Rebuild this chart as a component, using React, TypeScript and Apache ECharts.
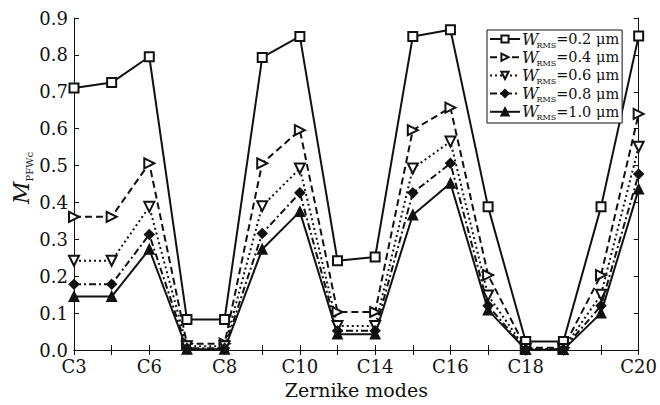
import React, { useEffect, useRef } from "react";
import * as echarts from "echarts";

const tickLabels = ["C3", "", "C6", "", "C8", "", "C10", "", "C14", "", "C16", "", "C18", "", "", "C20"];
const yTicks = [0, 0.9, 0.1];

const seriesNames = ["0.2", "0.4", "0.6", "0.8", "1.0"];
const w02 = [0.71, 0.725, 0.795, 0.083, 0.083, 0.793, 0.85, 0.242, 0.252, 0.85, 0.868, 0.388, 0.023, 0.023, 0.388, 0.851];
const w04 = [0.361, 0.361, 0.506, 0.017, 0.017, 0.506, 0.596, 0.103, 0.103, 0.596, 0.657, 0.203, 0.006, 0.006, 0.203, 0.64];
const w06 = [0.242, 0.242, 0.388, 0.01, 0.01, 0.39, 0.492, 0.065, 0.065, 0.492, 0.565, 0.148, 0.003, 0.003, 0.15, 0.551];
const w08 = [0.178, 0.178, 0.313, 0.005, 0.005, 0.316, 0.426, 0.052, 0.052, 0.426, 0.506, 0.12, 0.002, 0.002, 0.12, 0.477];
const w10 = [0.145, 0.145, 0.273, 0.002, 0.002, 0.273, 0.375, 0.043, 0.043, 0.366, 0.452, 0.108, 0.001, 0.001, 0.1, 0.436];

const FONT = "DejaVu Serif";
const INK = "#111";

export default function App() {
  const ref = useRef<HTMLDivElement>(null);
  useEffect(() => {
    if (!ref.current) return;
    const chart = echarts.init(ref.current, undefined, { renderer: "svg" });
    const values = [w02, w04, w06, w08, w10];
    const styles = [
      { symbol: "emptyRect", rotate: 0, type: "solid" as any, size: 9 },
      { symbol: "emptyTriangle", rotate: -90, type: [7, 4] as any, size: 10 },
      { symbol: "emptyTriangle", rotate: 180, type: [2, 3] as any, size: 10 },
      { symbol: "diamond", rotate: 0, type: [7, 3, 2, 3] as any, size: 9 },
      { symbol: "triangle", rotate: 0, type: "solid" as any, size: 9 },
    ];
    const series = seriesNames.map((n, i) => ({
      name: n,
      type: "line",
      data: values[i],
      symbol: styles[i].symbol,
      symbolSize: styles[i].size,
      symbolRotate: styles[i].rotate,
      lineStyle: { color: INK, width: 2, type: styles[i].type },
      itemStyle: { color: INK, borderColor: INK, borderWidth: 1.8 },
      showAllSymbol: true,
      z: 3,
    }));
    const axisCommon = {
      axisLine: { show: true, lineStyle: { color: INK, width: 1 } },
      axisTick: { show: true, inside: true, length: 5, lineStyle: { color: INK } },
      splitLine: { show: false },
    };
    chart.setOption({
      animation: false,
      backgroundColor: "#fff",
      grid: { left: 74, right: 13, top: 18, bottom: 55, containLabel: false },
      legend: {
        orient: "vertical",
        left: 487,
        top: 30,
        padding: [1, 3, 1, 2],
        itemGap: 0,
        itemWidth: 30,
        itemHeight: 9,
        borderColor: INK,
        borderWidth: 1,
        backgroundColor: "#fff",
        symbolRotate: "inherit",
        data: seriesNames,
        formatter: (name: string) => `{w|W}{s|RMS}{t|=${name} μm}`,
        textStyle: {
          fontFamily: FONT,
          color: INK,
          rich: {
            w: { fontFamily: FONT, fontStyle: "italic", fontSize: 16, lineHeight: 20.4, verticalAlign: "middle", color: INK, padding: [0, 0, 0, -3] },
            s: { fontFamily: FONT, fontSize: 8, lineHeight: 20.4, verticalAlign: "bottom", color: INK, padding: [0, 0, 0, -2] },
            t: { fontFamily: FONT, fontSize: 14.5, lineHeight: 20.4, verticalAlign: "middle", color: INK },
          },
        },
      },
      xAxis: [
        {
          type: "category",
          data: tickLabels,
          boundaryGap: false,
          position: "bottom",
          ...axisCommon,
          axisTick: { ...axisCommon.axisTick, interval: 0 },
          axisLabel: { interval: 0, fontFamily: FONT, fontSize: 18, color: INK, margin: 7 },
          name: "Zernike modes",
          nameLocation: "middle",
          nameGap: 30,
          nameTextStyle: { fontFamily: FONT, fontSize: 19, color: INK },
        },
        {
          type: "category",
          data: tickLabels,
          boundaryGap: false,
          position: "top",
          ...axisCommon,
          axisTick: { ...axisCommon.axisTick, interval: 0 },
          axisLabel: { show: false },
        },
      ],
      yAxis: [
        {
          type: "value",
          min: yTicks[0],
          max: yTicks[1],
          interval: yTicks[2],
          position: "left",
          ...axisCommon,
          axisLabel: { fontFamily: FONT, fontSize: 18, color: INK, margin: 6, formatter: (v: number) => v.toFixed(1) },
        },
        {
          type: "value",
          min: yTicks[0],
          max: yTicks[1],
          interval: yTicks[2],
          position: "right",
          ...axisCommon,
          axisLabel: { show: false },
        },
      ],
      graphic: [
        {
          type: "text",
          x: 21,
          y: 178,
          rotation: Math.PI / 2,
          style: {
            text: "{m|M}{s|PFWc}",
            align: "center",
            verticalAlign: "middle",
            rich: {
              m: { fontFamily: FONT, fontStyle: "italic", fontSize: 22, lineHeight: 26, verticalAlign: "middle", fill: INK },
              s: { fontFamily: FONT, fontSize: 10, lineHeight: 26, verticalAlign: "bottom", fill: INK },
            },
          },
        },
      ],
      series,
    });
    return () => chart.dispose();
  }, []);
  return <div ref={ref} style={{ position: "absolute", left: 0, top: 0, width: 660, height: 405 }} />;
}
